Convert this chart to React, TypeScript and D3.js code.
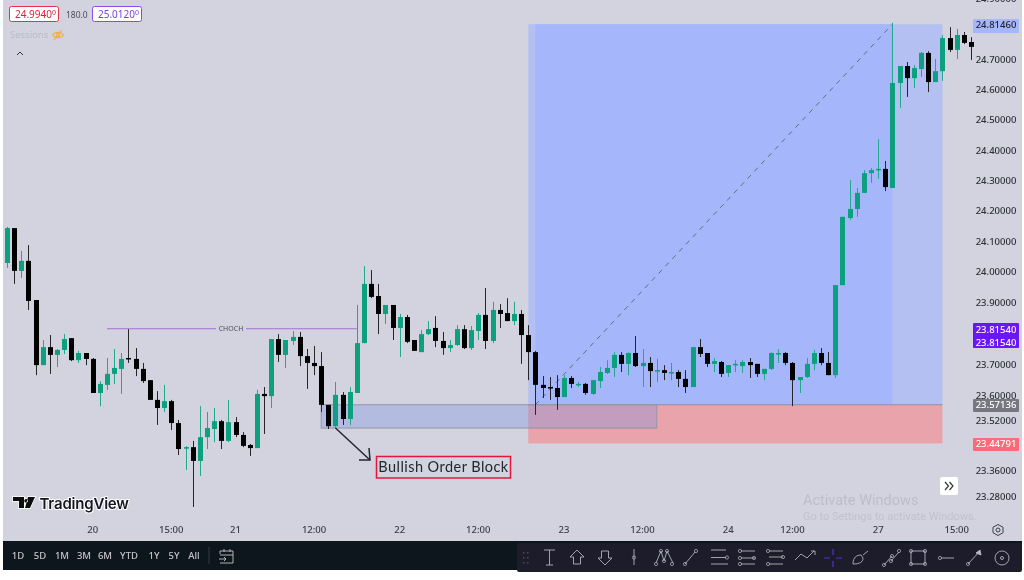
import React from "react";
import * as d3 from "d3";

const highs = [24.147,24.143,24.068,24.087,23.908,23.779,23.795,23.750,23.798,23.785,23.744,23.737,23.721,23.647,23.721,23.750,23.737,23.814,23.753,23.705,23.650,23.615,23.635,23.587,23.523,23.440,23.456,23.567,23.548,23.561,23.523,23.587,23.532,23.484,23.446,23.619,23.628,23.782,23.798,23.779,23.808,23.805,23.750,23.760,23.740,23.571,23.644,23.612,23.628,23.892,24.018,24.005,23.960,23.892,23.892,23.863,23.860,23.779,23.811,23.840,23.856,23.805,23.779,23.827,23.827,23.824,23.866,23.947,23.902,23.895,23.914,23.902,23.876,23.827,23.744,23.663,23.660,23.666,23.666,23.663,23.644,23.641,23.650,23.692,23.714,23.740,23.740,23.740,23.792,23.750,23.724,23.718,23.698,23.705,23.682,23.682,23.756,23.782,23.737,23.721,23.711,23.698,23.714,23.714,23.721,23.702,23.686,23.740,23.750,23.740,23.708,23.660,23.721,23.747,23.753,23.740,23.956,24.180,24.301,24.275,24.334,24.341,24.436,24.364,24.819,24.677,24.690,24.680,24.723,24.726,24.700,24.779,24.805,24.799,24.789,24.772];
const lows = [24.012,23.960,23.979,23.876,23.666,23.698,23.670,23.692,23.734,23.711,23.705,23.698,23.609,23.567,23.619,23.638,23.606,23.705,23.663,23.641,23.587,23.507,23.548,23.491,23.411,23.363,23.245,23.344,23.430,23.452,23.430,23.452,23.468,23.436,23.408,23.433,23.478,23.561,23.708,23.689,23.763,23.695,23.622,23.666,23.548,23.494,23.497,23.507,23.507,23.609,23.769,23.914,23.798,23.831,23.779,23.724,23.769,23.744,23.740,23.795,23.756,23.731,23.740,23.760,23.750,23.747,23.779,23.750,23.769,23.818,23.840,23.827,23.702,23.650,23.539,23.593,23.587,23.555,23.596,23.625,23.628,23.603,23.603,23.625,23.670,23.660,23.676,23.666,23.692,23.628,23.628,23.644,23.650,23.650,23.628,23.609,23.628,23.724,23.692,23.676,23.660,23.660,23.676,23.673,23.657,23.660,23.650,23.682,23.705,23.698,23.567,23.609,23.657,23.682,23.698,23.666,23.657,23.956,24.170,24.180,24.259,24.292,24.305,24.265,24.275,24.539,24.575,24.604,24.641,24.591,24.624,24.628,24.723,24.700,24.749,24.697];
const opens = [24.028,24.143,24.002,24.035,23.908,23.698,23.756,23.731,23.747,23.785,23.714,23.737,23.718,23.609,23.635,23.670,23.686,23.721,23.718,23.686,23.650,23.587,23.561,23.583,23.513,23.433,23.436,23.392,23.468,23.494,23.519,23.456,23.516,23.475,23.443,23.433,23.606,23.599,23.782,23.731,23.776,23.789,23.727,23.705,23.695,23.571,23.503,23.603,23.526,23.609,23.769,23.960,23.921,23.863,23.892,23.818,23.853,23.779,23.740,23.798,23.818,23.776,23.753,23.763,23.814,23.753,23.808,23.860,23.776,23.876,23.866,23.840,23.863,23.795,23.740,23.635,23.628,23.625,23.596,23.657,23.635,23.638,23.606,23.647,23.673,23.689,23.731,23.702,23.737,23.695,23.705,23.679,23.682,23.673,23.676,23.654,23.628,23.756,23.737,23.702,23.708,23.673,23.698,23.695,23.708,23.702,23.670,23.686,23.734,23.737,23.705,23.650,23.660,23.702,23.737,23.705,23.666,23.956,24.176,24.206,24.259,24.324,24.334,24.338,24.275,24.621,24.677,24.637,24.667,24.720,24.624,24.660,24.769,24.730,24.779,24.756];
const closes = [24.143,24.002,24.035,23.905,23.698,23.756,23.731,23.747,23.782,23.714,23.737,23.718,23.609,23.638,23.670,23.689,23.718,23.718,23.686,23.647,23.587,23.561,23.583,23.513,23.430,23.436,23.392,23.468,23.497,23.519,23.456,23.516,23.475,23.440,23.433,23.606,23.599,23.782,23.731,23.779,23.789,23.727,23.705,23.695,23.571,23.503,23.603,23.526,23.612,23.769,23.960,23.918,23.863,23.892,23.818,23.853,23.773,23.744,23.798,23.814,23.776,23.753,23.763,23.814,23.753,23.811,23.860,23.776,23.876,23.863,23.840,23.863,23.795,23.740,23.635,23.625,23.625,23.596,23.657,23.638,23.638,23.609,23.650,23.676,23.689,23.731,23.702,23.737,23.695,23.705,23.679,23.682,23.673,23.676,23.654,23.628,23.756,23.734,23.702,23.711,23.670,23.698,23.702,23.708,23.698,23.670,23.686,23.737,23.737,23.705,23.650,23.660,23.702,23.737,23.705,23.666,23.956,24.180,24.206,24.259,24.324,24.334,24.338,24.278,24.621,24.677,24.637,24.670,24.720,24.624,24.660,24.769,24.730,24.779,24.753,24.740];

const priceTicks = [24.9,24.7,24.6,24.5,24.4,24.3,24.2,24.1,24.0,23.9,23.7,23.6,23.52,23.36,23.28];
const timeLabels = ["20","15:00","21","12:00","22","12:00","23","12:00","24","12:00","27","15:00"];
const timeIndex = [12,23,32,43,55,66,78,89,101,110,122,133];
const rangeButtons = ["1D","5D","1M","3M","6M","YTD","1Y","5Y","All"];
const rangeButtonX = [18,40,62,84,105,129,154,174,194];

const targetPrice = 24.8146;
const entryPrice = 23.57136;
const stopPrice = 23.44791;
const chochPrice = 23.8154;
const blockBottom = 23.497;
const chochSpan = [14, 49];
const blockSpan = [44, 91];
const positionSpan = [73, 131];
const positionInner = [74, 124];

const BG = "#d2d3de";
const UP = "#08a07f";
const FONT = "'Noto Sans', Roboto, sans-serif";

const x = d3.scaleLinear().domain([0, 135]).range([7, 971]);
const y = d3.scaleLinear().domain([24.7, 24.0, 23.7, 23.28]).range([59, 271.5, 364.5, 496]);

const ic = "#b9bbc4";
function Dot({ cx, cy }: { cx: number; cy: number }) {
  return <circle cx={cx} cy={cy} r={1.6} fill="none" stroke={ic} strokeWidth={0.7} />;
}
function Toolbar() {
  return (
    <g fill="none" stroke={ic} strokeWidth={0.85}>
      <path d="M544 550h11M549.5 550v15M546 565h7" />
      <path d="M577 550l7 7h-3.5v7h-7v-7H570z" />
      <path d="M605 565l7-7h-3.5v-7h-7v7H598z" />
      <path d="M634 549v16" /><Dot cx={634} cy={557.5} />
      <path d="M656 563l5-12 3 10 3-10 6 12" /><Dot cx={656} cy={564} /><Dot cx={661} cy={551} /><Dot cx={664} cy={561} /><Dot cx={667} cy={551} /><Dot cx={672} cy={564} />
      <path d="M685 564l10-12" /><Dot cx={685} cy={564} /><Dot cx={696} cy={551} />
      <path d="M711 550h15M711 557.500h15M711 564h17" /><Dot cx={727} cy={557.5} />
      <path d="M741 551h14M741 558h14M741 564h14" /><Dot cx={740} cy={551} /><Dot cx={740} cy={558} /><Dot cx={740} cy={564} /><Dot cx={754} cy={558} />
      <path d="M769 551h14M769 557h14M769 564h14" /><Dot cx={768} cy={551} /><Dot cx={783} cy={557} /><Dot cx={768} cy={564} />
      <path d="M795 560l6-6 6 4 7-7" /><path d="M811 551h4v4" />
      <path d="M833 549v6M833 561v6M824 558h6M836 558h6" stroke="#5a2bd8" strokeWidth={1.2} />
      <path d="M853 564c0-7 4-9 8-9l2 3c0 4-3 6-10 6zM863 555l5-4" />
      <path d="M884 565l8-9M891 561l8-9" /><Dot cx={884} cy={565} /><Dot cx={892} cy={556} /><Dot cx={891} cy={561} /><Dot cx={899} cy={551} />
      <rect x={911} y={551} width={14} height={13} /><Dot cx={911} cy={551} /><Dot cx={925} cy={551} /><Dot cx={911} cy={564} /><Dot cx={925} cy={564} />
      <path d="M941 558h13" /><Dot cx={940} cy={558} />
      <path d="M968 564l12-13" /><Dot cx={968} cy={564} /><path d="M976 553l4-3 1 5z" fill={ic} />
      <circle cx={1002} cy={558} r={7} /><circle cx={1002} cy={558} r={1.5} />
    </g>
  );
}

function Tag({ top, h, fill, color, labels }: { top: number; h: number; fill: string; color: string; labels: [string, number][] }) {
  return (
    <g>
      <rect x={973} y={top} width={46} height={h} fill={fill} rx={1} />
      {labels.map(([t, py], i) => (
        <text key={i} x={996} y={y(py) + 3.5} textAnchor="middle" fontSize={9.5} fontWeight={500} fill={color}>{t}</text>
      ))}
    </g>
  );
}

export default function App() {
  const yTarget = y(targetPrice), yEntry = y(entryPrice), yStop = y(stopPrice);
  return (
    <svg width={1024} height={580} viewBox="0 0 1024 580" style={{ position: "fixed", left: 0, top: 0, display: "block", background: "#fff" }} fontFamily={FONT}>
      <defs>
        <filter id="soft" x="-2%" y="-2%" width="104%" height="104%"><feGaussianBlur stdDeviation="0.4" /></filter>
      </defs>
      <g filter="url(#soft)">
        <rect x={3} y={0} width={1019} height={542} fill={BG} />

        {/* long position tool */}
        <rect x={x(positionSpan[0])} y={yTarget} width={x(positionSpan[1]) - x(positionSpan[0])} height={yEntry - yTarget} fill="#b4c0f1" />
        <rect x={x(positionInner[0])} y={yTarget} width={x(positionInner[1]) - x(positionInner[0])} height={yEntry - yTarget} fill="#a6b6fb" />
        <rect x={x(positionSpan[0])} y={yEntry} width={x(positionSpan[1]) - x(positionSpan[0])} height={yStop - yEntry} fill="#e8a4aa" />
        <line x1={x(positionSpan[0])} x2={x(positionSpan[1])} y1={yEntry} y2={yEntry} stroke="#8a8ea8" strokeWidth={1} />
        <line x1={x(positionInner[0])} y1={yEntry} x2={x(positionInner[1])} y2={yTarget} stroke="#666a80" strokeWidth={1} strokeDasharray="5 5" />

        {/* order block, beneath the candles */}
        <rect x={x(blockSpan[0])} y={yEntry} width={x(blockSpan[1]) - x(blockSpan[0])} height={y(blockBottom) - yEntry} fill="#7f8fe2" fillOpacity={0.36} stroke="#9496a6" strokeWidth={1} />

        {/* CHoCH */}
        <line x1={x(chochSpan[0])} x2={216} y1={y(chochPrice)} y2={y(chochPrice)} stroke="#a56ed8" strokeWidth={1.2} />
        <line x1={246} x2={x(chochSpan[1])} y1={y(chochPrice)} y2={y(chochPrice)} stroke="#a56ed8" strokeWidth={1.2} />
        <text x={231} y={y(chochPrice) + 2.5} textAnchor="middle" fontSize={7} fill="#4a4d58">CHOCH</text>

        {/* candles */}
        {highs.map((h, i) => {
          const up = closes[i] >= opens[i];
          const cx = Math.round(x(i));
          const top = y(Math.max(opens[i], closes[i]));
          const bot = y(Math.min(opens[i], closes[i]));
          return (
            <g key={i}>
              <line x1={cx + 0.5} x2={cx + 0.5} y1={y(h)} y2={y(lows[i])} stroke={up ? "#22a98c" : "#25262c"} strokeWidth={1} />
              <rect x={cx - 2} y={top} width={5} height={Math.max(bot - top, 1.5)} fill={up ? UP : "#000"} />
            </g>
          );
        })}

        {/* annotation */}
        <g fill="none" stroke="#23262f" strokeWidth={1.5}>
          <line x1={x(46)} y1={y(blockBottom)} x2={370} y2={460} />
          <polyline points="359,460 370,460 369,448" />
        </g>
        <rect x={376.5} y={456.500} width={134} height={21.500} fill="none" stroke="#e3173e" strokeWidth={1.5} />
        <text x={443.5} y={472} textAnchor="middle" fontSize={14.5} fill="#23262f" fontFamily="Lato, sans-serif" letterSpacing={0.45}>Bullish Order Block</text>

        {/* top-left header */}
        <rect x={9.5} y={6.5} width={49} height={15} rx={2} fill="#fff" stroke="#e2344e" />
        <text x={15} y={18} fontSize={10} fill="#d9233f">24.9940<tspan fontSize={7} dy={-3}>0</tspan></text>
        <text x={66} y={18} fontSize={8.5} fill="#4a4d58">180.0</text>
        <rect x={92.5} y={6.5} width={49} height={15} rx={2} fill="#fff" stroke="#8a4be8" />
        <text x={98} y={18} fontSize={10} fill="#7a3fe0">25.0120<tspan fontSize={7} dy={-3}>0</tspan></text>
        <text x={10} y={38} fontSize={9.5} fill="#b9bbc6">Sessions</text>
        <g fill="none" stroke="#eeb04a" strokeWidth={1.1}>
          <path d="M52.500 35c2-3.500 9-3.500 11 0-2 3.500-9 3.500-11 0z" /><circle cx={58} cy={35} r={1.7} /><path d="M54 40l8-10" />
        </g>
        <path d="M17 55l3-3 3 3" fill="none" stroke="#33363f" strokeWidth={1} />

        {/* logo */}
        <g>
          <path d="M13 497h11v11h-5v-7h-6zM28 497h7l-5 11h-5z M26 499a1.800 1.800 0 1 0 .1 0" fill="#111" stroke="#fff" strokeWidth={1.5} paintOrder="stroke" />
          <text x={39.500} y={509} fontSize={15} fontWeight={600} fill="#131722" stroke="#fff" strokeWidth={2} paintOrder="stroke" fontFamily="Inter, sans-serif" letterSpacing={-0.2}>TradingView</text>
        </g>

        {/* watermark */}
        <text x={803} y={505} fontSize={14.5} fill="#bcbdc8" fontFamily="Roboto, sans-serif">Activate Windows</text>
        <text x={803} y={520} fontSize={11} fill="#c0c1cc" fontFamily="Roboto, sans-serif">Go to Settings to activate Windows.</text>

        {/* price axis */}
        {priceTicks.map((p) => (
          <text key={p} x={996} y={y(p) + 3.5} textAnchor="middle" fontSize={9.5} fontWeight={500} fill="#2e3038">{p.toFixed(5)}</text>
        ))}
        <Tag top={19} h={14} fill="#a6b6fb" color="#23262f" labels={[[targetPrice.toFixed(5), targetPrice]]} />
        <g>
          <rect x={973} y={323} width={46} height={25} fill="#6a12f5" rx={1} />
          <text x={996} y={332.500} textAnchor="middle" fontSize={9.5} fontWeight={500} fill="#fff">{chochPrice.toFixed(5)}</text>
          <text x={996} y={345.500} textAnchor="middle" fontSize={9.5} fontWeight={500} fill="#fff">{chochPrice.toFixed(5)}</text>
        </g>
        <Tag top={399} h={13} fill="#77787f" color="#fff" labels={[[entryPrice.toFixed(5), entryPrice]]} />
        <Tag top={438} h={13} fill="#fb6a76" color="#fff" labels={[[stopPrice.toFixed(5), stopPrice]]} />

        {/* time axis */}
        {timeLabels.map((t, i) => (
          <text key={i} x={x(timeIndex[i])} y={533} textAnchor="middle" fontSize={9.5} fontWeight={500} fill="#3a3c46">{t}</text>
        ))}
        <circle cx={998} cy={530} r={2} fill="none" stroke="#3a3c46" />
        <path d="M998 524.500l5 2.800v5.400l-5 2.800-5-2.800v-5.400z" fill="none" stroke="#3a3c46" />

        {/* scroll button */}
        <rect x={940} y={477} width={18} height={18} rx={2} fill="#fff" />
        <path d="M945 482l3.500 4-3.500 4M949.500 482l3.500 4-3.500 4" fill="none" stroke="#33363f" strokeWidth={1.2} />

        {/* bottom bar */}
        <rect x={3} y={541} width={1019} height={29} fill="#11131d" />
        <rect x={517} y={543} width={505} height={29} rx={2} fill="#1d1e2b" />
        {rangeButtons.map((b, i) => (
          <text key={b} x={rangeButtonX[i]} y={559} textAnchor="middle" fontSize={9.5} fontWeight={500} fill="#c3c5cc">{b}</text>
        ))}
        <line x1={209} x2={209} y1={547} y2={564} stroke="#3a3c46" />
        <path d="M220 551h13v12h-13M220 551v3M224 549v3M230 549v3M220 555h13M219 559h7l-2-2M226 559l-2 2" fill="none" stroke="#c3c5cc" strokeWidth={0.9} />
        <g fill="#4a4c5a">
          {[0, 5, 10].map((d) => (<g key={d}><rect x={523} y={552 + d} width={1.500} height={1.500} /><rect x={527} y={552 + d} width={1.500} height={1.500} /></g>))}
        </g>
        <Toolbar />
      </g>
    </svg>
  );
}
